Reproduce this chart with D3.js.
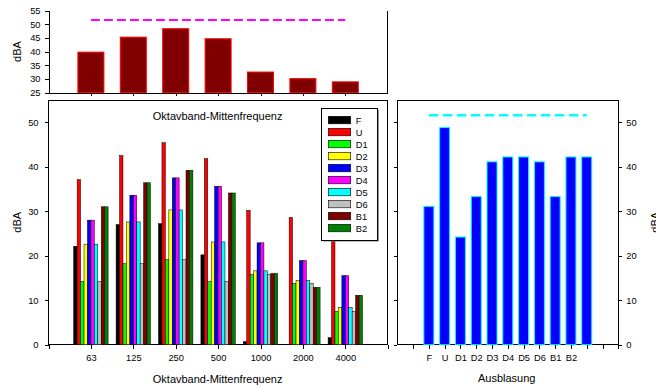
<!DOCTYPE html>
<html>
<head>
<meta charset="utf-8">
<script src="https://cdn.jsdelivr.net/npm/d3@7"></script>
<style>
body{margin:0;background:#fff}
svg{display:block;font-family:Arial,"Liberation Sans",sans-serif}
.axis path,.axis line{stroke:#000;shape-rendering:crispEdges}
.axis text{font-size:9.3px;fill:#000;font-family:Arial,"Liberation Sans",sans-serif}
.title{font-size:11px;fill:#000}
</style>
</head>
<body>
<svg id="chart" width="656" height="385"></svg>
<script>
var freqs = ["63", "125", "250", "500", "1000", "2000", "4000"];
var series = ["F", "U", "D1", "D2", "D3", "D4", "D5", "D6", "B1", "B2"];
var colors = ["#000000", "#ff0000", "#00ff00", "#ffff00", "#0000ff", "#ff00ff", "#00ffff", "#c0c0c0", "#800000", "#008000"];

var F  = [22.1, 27.0, 27.2, 20.2, 0.7, 0, 1.6];
var U  = [37.1, 42.5, 45.4, 41.8, 30.2, 28.6, 26.0];
var D1 = [14.2, 18.2, 19.1, 14.2, 15.8, 13.8, 7.5];
var D2 = [22.6, 27.6, 30.3, 23.1, 16.6, 14.4, 8.4];
var D3 = [28.0, 33.6, 37.5, 35.6, 22.9, 18.9, 15.5];
var D4 = [28.0, 33.6, 37.5, 35.6, 22.9, 18.9, 15.5];
var D5 = [22.6, 27.6, 30.3, 23.1, 16.6, 14.4, 8.4];
var D6 = [14.2, 18.2, 19.1, 14.2, 15.8, 13.8, 7.5];
var B1 = [31.0, 36.4, 39.2, 34.1, 16.0, 12.9, 11.1];
var B2 = [31.0, 36.4, 39.2, 34.1, 16.0, 12.9, 11.1];
var seriesValues = [F, U, D1, D2, D3, D4, D5, D6, B1, B2];

var totalByFreq = [39.8, 45.3, 48.4, 44.7, 32.5, 30.1, 28.9];
var outletLabels = ["F", "U", "D1", "D2", "D3", "D4", "D5", "D6", "B1", "B2"];
var totalByOutlet = [31.1, 48.8, 24.2, 33.3, 41.1, 42.2, 42.2, 41.1, 33.3, 42.2, 42.2];
var limitLevel = 51.6;

var svg = d3.select("#chart");

// shared x for the two left panels
var left = 48.5, right = 387.7;
var x = d3.scaleLinear().domain([0, 8]).range([left, right]);

// ---------- top panel: total per octave band ----------
var yTop = d3.scaleLinear().domain([25, 55]).range([92.5, 10.7]);
var topPanel = svg.append("g");

topPanel.selectAll("rect.bar")
    .data(totalByFreq)
    .enter()
    .append("rect")
    .attr("class", "bar")
    .attr("x", function (d, i) { return x(i + 1) - 13; })
    .attr("width", 26)
    .attr("y", function (d) { return yTop(d); })
    .attr("height", function (d) { return yTop(25) - yTop(d); })
    .attr("fill", "#800000")
    .attr("stroke", "#ff0000")
    .attr("stroke-width", 1);

topPanel.append("line")
    .attr("x1", x(1)).attr("x2", x(freqs.length))
    .attr("y1", yTop(limitLevel)).attr("y2", yTop(limitLevel))
    .attr("stroke", "#ff00ff")
    .attr("stroke-width", 2)
    .attr("stroke-dasharray", "9,4");

topPanel.append("g")
    .attr("class", "axis")
    .attr("transform", "translate(" + left + ",0)")
    .call(d3.axisLeft(yTop).tickValues(d3.range(25, 56, 5)).tickSize(4).tickPadding(4).tickSizeOuter(0));

topPanel.append("g")
    .attr("class", "axis")
    .attr("transform", "translate(0," + yTop(25) + ")")
    .call(d3.axisBottom(x).tickValues(d3.range(1, 8)).tickSize(3).tickFormat("").tickSizeOuter(0));

topPanel.append("line")
    .attr("x1", right).attr("x2", right)
    .attr("y1", yTop(55)).attr("y2", yTop(25))
    .attr("stroke", "#000")
    .attr("shape-rendering", "crispEdges");

topPanel.append("text")
    .attr("class", "title")
    .attr("transform", "translate(20.5," + ((yTop(25) + yTop(55)) / 2) + ") rotate(-90)")
    .attr("text-anchor", "middle")
    .text("dBA");

// ---------- main panel: grouped bars ----------
var y = d3.scaleLinear().domain([0, 55]).range([344.7, 100]);
var inner = d3.scaleBand().domain(series).range([-17.2, 17.2]);
var main = svg.append("g");

main.append("rect")
    .attr("x", left).attr("y", y(55))
    .attr("width", right - left).attr("height", y(0) - y(55))
    .attr("fill", "none").attr("stroke", "#000")
    .attr("shape-rendering", "crispEdges");

series.forEach(function (name, s) {
    main.selectAll("rect.s" + s)
        .data(seriesValues[s])
        .enter()
        .append("rect")
        .attr("class", "s" + s)
        .attr("x", function (d, i) { return x(i + 1) + inner(name); })
        .attr("width", inner.bandwidth())
        .attr("y", function (d) { return y(d); })
        .attr("height", function (d) { return y(0) - y(d); })
        .attr("fill", colors[s])
        .attr("stroke", function (d) { return d > 0 ? "#000" : "none"; })
        .attr("stroke-width", 0.5);
});

main.append("g")
    .attr("class", "axis")
    .attr("transform", "translate(" + left + ",0)")
    .call(d3.axisLeft(y).tickValues(d3.range(0, 51, 10)).tickSize(4).tickPadding(6).tickSizeOuter(0))
    .select(".domain").remove();

main.append("g")
    .attr("class", "axis")
    .attr("transform", "translate(0," + y(0) + ")")
    .call(d3.axisBottom(x).tickValues(d3.range(0, 9)).tickSize(4).tickPadding(6)
        .tickFormat(function (i) { return freqs[i - 1] || ""; }))
    .select(".domain").remove();

main.append("text")
    .attr("class", "title")
    .attr("x", (left + right) / 2 - 0.5).attr("y", 119.5)
    .attr("text-anchor", "middle")
    .text("Oktavband-Mittenfrequenz");

main.append("text")
    .attr("class", "title")
    .attr("x", (left + right) / 2 - 0.5).attr("y", 383)
    .attr("text-anchor", "middle")
    .text("Oktavband-Mittenfrequenz");

main.append("text")
    .attr("class", "title")
    .attr("transform", "translate(20.5," + ((y(0) + y(55)) / 2) + ") rotate(-90)")
    .attr("text-anchor", "middle")
    .text("dBA");

// legend
var legend = main.append("g").attr("transform", "translate(321.7,108.3)");
legend.append("rect")
    .attr("x", 1.5).attr("y", 1.5).attr("width", 55.6).attr("height", 131.7)
    .attr("fill", "#808080");
legend.append("rect")
    .attr("width", 55.6).attr("height", 131.7)
    .attr("fill", "#fff").attr("stroke", "#000")
    .attr("shape-rendering", "crispEdges");
var item = legend.selectAll("g.item")
    .data(series)
    .enter()
    .append("g")
    .attr("class", "item")
    .attr("transform", function (d, i) { return "translate(0," + (8 + i * 12) + ")"; });
item.append("rect")
    .attr("x", 6.6).attr("width", 22.4).attr("height", 7.5)
    .attr("fill", function (d, i) { return colors[i]; })
    .attr("stroke", "#000").attr("stroke-width", 0.6);
item.append("text")
    .attr("x", 34).attr("y", 7.3)
    .attr("font-size", "9.3px")
    .text(function (d) { return d; });

// ---------- right panel: total per outlet ----------
var xr = d3.scaleLinear().domain([-1, 13]).range([397.3, 618.3]);
var rp = svg.append("g");

rp.append("rect")
    .attr("x", xr(-1)).attr("y", y(55))
    .attr("width", xr(13) - xr(-1)).attr("height", y(0) - y(55))
    .attr("fill", "none").attr("stroke", "#000")
    .attr("shape-rendering", "crispEdges");

rp.selectAll("rect.bar")
    .data(totalByOutlet)
    .enter()
    .append("rect")
    .attr("class", "bar")
    .attr("x", function (d, i) { return xr(i + 1) - 5; })
    .attr("width", 10)
    .attr("y", function (d) { return y(d); })
    .attr("height", function (d) { return y(0) - y(d); })
    .attr("fill", "#0000ff")
    .attr("stroke", "#00ffff")
    .attr("stroke-width", 1);

rp.append("line")
    .attr("x1", xr(1)).attr("x2", xr(totalByOutlet.length))
    .attr("y1", y(limitLevel)).attr("y2", y(limitLevel))
    .attr("stroke", "#00ffff")
    .attr("stroke-width", 2.5)
    .attr("stroke-dasharray", "9.5,4.5");

rp.append("g")
    .attr("class", "axis")
    .attr("transform", "translate(" + xr(13) + ",0)")
    .call(d3.axisRight(y).tickValues(d3.range(0, 51, 10)).tickSize(4).tickPadding(4).tickSizeOuter(0))
    .select(".domain").remove();

rp.append("g")
    .attr("class", "axis")
    .attr("transform", "translate(" + xr(-1) + ",0)")
    .call(d3.axisLeft(y).tickValues(d3.range(0, 51, 10)).tickSize(3).tickFormat("").tickSizeOuter(0))
    .select(".domain").remove();

rp.append("g")
    .attr("class", "axis")
    .attr("transform", "translate(0," + y(0) + ")")
    .call(d3.axisBottom(xr).tickValues(d3.range(0, 14)).tickSize(4).tickPadding(6)
        .tickFormat(function (i) { return outletLabels[i - 1] || ""; }))
    .select(".domain").remove();

rp.append("text")
    .attr("class", "title")
    .attr("x", 506.7).attr("y", 381.5)
    .attr("text-anchor", "middle")
    .text("Ausblasung");

rp.append("text")
    .attr("class", "title")
    .attr("transform", "translate(659," + ((y(0) + y(55)) / 2) + ") rotate(-90)")
    .attr("text-anchor", "middle")
    .text("dBA");
</script>
</body>
</html>
